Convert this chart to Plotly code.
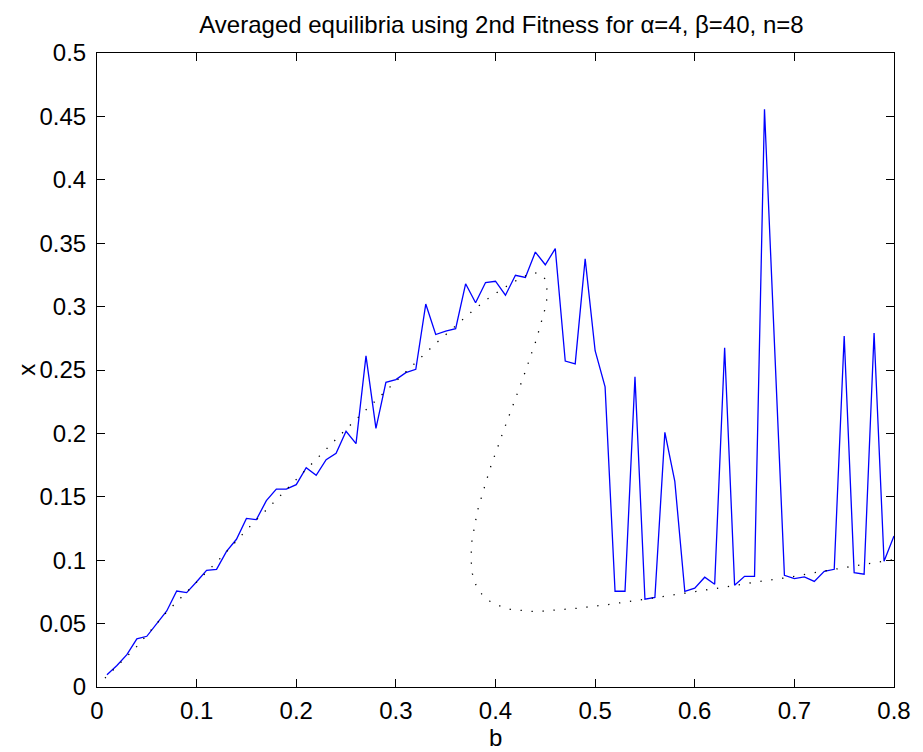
import plotly.graph_objects as go

# Sampled b values and the averaged equilibrium x from simulation
b_vals = [0.01, 0.02, 0.03, 0.04, 0.05, 0.06, 0.07, 0.08, 0.09, 0.10,
          0.11, 0.12, 0.13, 0.14, 0.15, 0.16, 0.17, 0.18, 0.19, 0.20,
          0.21, 0.22, 0.23, 0.24, 0.25, 0.26, 0.27, 0.28, 0.29, 0.30,
          0.31, 0.32, 0.33, 0.34, 0.35, 0.36, 0.37, 0.38, 0.39, 0.40,
          0.41, 0.42, 0.43, 0.44, 0.45, 0.46, 0.47, 0.48, 0.49, 0.50,
          0.51, 0.52, 0.53, 0.54, 0.55, 0.56, 0.57, 0.58, 0.59, 0.60,
          0.61, 0.62, 0.63, 0.64, 0.65, 0.66, 0.67, 0.68, 0.69, 0.70,
          0.71, 0.72, 0.73, 0.74, 0.75, 0.76, 0.77, 0.78, 0.79, 0.80]
x_avg = [0.0097, 0.0170, 0.0255, 0.0380, 0.0400, 0.0500, 0.0600, 0.0757, 0.0744, 0.0830,
         0.0920, 0.0928, 0.1070, 0.1165, 0.1330, 0.1320, 0.1470, 0.1560, 0.1560, 0.1596,
         0.1730, 0.1670, 0.1793, 0.1843, 0.2017, 0.1919, 0.2611, 0.2040, 0.2403, 0.2424,
         0.2479, 0.2505, 0.3020, 0.2780, 0.2807, 0.2826, 0.3180, 0.3030, 0.3190, 0.3200,
         0.3090, 0.3247, 0.3230, 0.3430, 0.3330, 0.3457, 0.2570, 0.2548, 0.3376, 0.2652,
         0.2367, 0.0755, 0.0755, 0.2446, 0.0692, 0.0707, 0.2008, 0.1621, 0.0755, 0.0780,
         0.0866, 0.0810, 0.2675, 0.0803, 0.0873, 0.0873, 0.4556, 0.2710, 0.0881, 0.0855,
         0.0868, 0.0833, 0.0912, 0.0928, 0.2768, 0.0902, 0.0890, 0.2792, 0.0991, 0.1191]

# Theoretical equilibrium curve (folds back between b ~ 0.376 and b ~ 0.452)
b_eq = [0.008, 0.040, 0.071, 0.1035, 0.127, 0.149, 0.173, 0.196, 0.2196, 0.2428,
        0.2667, 0.2905, 0.3144, 0.3387, 0.356, 0.373, 0.390, 0.409, 0.425, 0.438,
        0.446, 0.4505, 0.4517, 0.4515, 0.450, 0.447, 0.444, 0.4408, 0.437, 0.4338,
        0.4299, 0.4262, 0.4222, 0.4182, 0.4145, 0.4106, 0.4069, 0.4033, 0.3993, 0.3956,
        0.3923, 0.3893, 0.3860, 0.3827, 0.3804, 0.3784, 0.3764, 0.3757, 0.3757, 0.3768,
        0.3801, 0.3861, 0.3940, 0.4043, 0.4149, 0.4259, 0.4368, 0.4478, 0.4587, 0.4697,
        0.481, 0.4916, 0.5022, 0.5128, 0.55, 0.60, 0.632, 0.654, 0.6975, 0.7197,
        0.7515, 0.7735, 0.7954, 0.80]
x_eq = [0.007, 0.032, 0.060, 0.086, 0.104, 0.123, 0.142, 0.161, 0.1793, 0.1977,
        0.2161, 0.2340, 0.2521, 0.2700, 0.282, 0.294, 0.305, 0.315, 0.3225, 0.327,
        0.3255, 0.321, 0.313, 0.306, 0.299, 0.290, 0.282, 0.2734, 0.265, 0.257,
        0.2487, 0.2406, 0.2324, 0.2240, 0.2161, 0.2077, 0.1996, 0.1914, 0.1830, 0.1749,
        0.1664, 0.1583, 0.1498, 0.1412, 0.1325, 0.1241, 0.1157, 0.1070, 0.0983, 0.0894,
        0.0810, 0.0734, 0.0678, 0.0639, 0.0612, 0.0604, 0.0596, 0.0599, 0.0604, 0.0609,
        0.0620, 0.0630, 0.0639, 0.0650, 0.0692, 0.0749, 0.0790, 0.0819, 0.0869, 0.0902,
        0.0944, 0.0973, 0.1000, 0.1005]

x_ticks = [0, 0.1, 0.2, 0.3, 0.4, 0.5, 0.6, 0.7, 0.8]
x_tick_text = ["0", "0.1", "0.2", "0.3", "0.4", "0.5", "0.6", "0.7", "0.8"]
y_ticks = [0, 0.05, 0.1, 0.15, 0.2, 0.25, 0.3, 0.35, 0.4, 0.45, 0.5]
y_tick_text = ["0", "0.05", "0.1", "0.15", "0.2", "0.25", "0.3", "0.35", "0.4", "0.45", "0.5"]

FONT = "Liberation Sans, Arial, Helvetica, sans-serif"
W, H = 923, 752
L, R, T, B = 97, 22, 53, 65

fig = go.Figure()
fig.add_trace(go.Scatter(
    x=b_vals, y=x_avg, mode="lines",
    line=dict(color="#0000ff", width=1.3),
    showlegend=False, hoverinfo="skip",
))
fig.add_trace(go.Scatter(
    x=b_eq, y=x_eq, mode="lines",
    line=dict(color="#000000", width=1.3, dash="1.3px,9.7px"),
    showlegend=False, hoverinfo="skip",
))

axis_common = dict(
    showgrid=False, zeroline=False,
    showline=True, linecolor="black", linewidth=1,
    mirror="ticks", ticks="inside", ticklen=8, tickwidth=1, tickcolor="black",
    tickfont=dict(family=FONT, size=24, color="black"),
)

fig.update_xaxes(range=[0, 0.8], tickmode="array", tickvals=x_ticks,
                 ticktext=x_tick_text, ticklabelstandoff=2, **axis_common)
fig.update_yaxes(range=[0, 0.5], tickmode="array", tickvals=y_ticks,
                 ticktext=y_tick_text, ticklabelstandoff=5, **axis_common)

plot_h = H - T - B
plot_w = W - L - R
fig.add_annotation(text="b", xref="paper", yref="paper", x=0.5,
                   y=(H - B - 737) / plot_h, xanchor="center", yanchor="middle",
                   showarrow=False, font=dict(family=FONT, size=24, color="black"))
fig.add_annotation(text="x", xref="paper", yref="paper", x=(25 - L) / plot_w,
                   y=0.5, xanchor="center", yanchor="middle", textangle=-90,
                   showarrow=False, font=dict(family=FONT, size=24, color="black"))

fig.update_layout(
    width=W, height=H,
    margin=dict(l=L, r=R, t=T, b=B),
    paper_bgcolor="white", plot_bgcolor="white",
    title=dict(text="Averaged equilibria using 2nd Fitness for α=4, β=40, n=8",
               x=(505 - L) / plot_w, xref="paper", xanchor="center",
               y=1 - 25 / H, yref="container", yanchor="middle",
               font=dict(family=FONT, size=24, color="black")),
)

fig.write_html("out.html")
